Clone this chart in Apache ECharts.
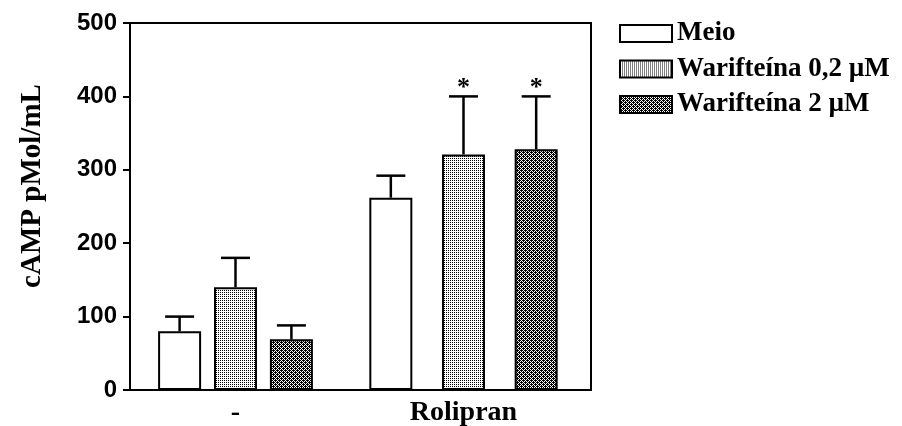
<!DOCTYPE html>
<html>
<head>
<meta charset="utf-8">
<script src="https://cdn.jsdelivr.net/npm/echarts@6/dist/echarts.min.js"></script>
<style>html,body{margin:0;padding:0;background:#fff}#c{width:902px;height:426px}</style>
</head>
<body>
<div id="c"></div>
<script>
// ---- data ----
var categories = ['-', 'Rolipran'];
var seriesNames = ['Meio', 'Warifteína 0,2 µM', 'Warifteína 2 µM'];
var meio = [80, 262];
var meioErr = [20, 30];
var war02 = [140, 321];
var war02Err = [40, 79];
var war2 = [69, 328];
var war2Err = [19, 72];
var war02Sig = ['', '*'];
var war2Sig = ['', '*'];
var yTicks = [0, 100, 200, 300, 400, 500];
var yTitle = 'cAMP pMol/mL';

// ---- styles ----
function makePattern(rows) {
  var c = document.createElement('canvas');
  c.width = rows[0].length; c.height = rows.length;
  var ctx = c.getContext('2d');
  ctx.fillStyle = '#fff'; ctx.fillRect(0, 0, c.width, c.height);
  ctx.fillStyle = '#000';
  for (var y = 0; y < rows.length; y++)
    for (var x = 0; x < rows[y].length; x++)
      if (rows[y][x] === '1') ctx.fillRect(x, y, 1, 1);
  return { image: c, repeat: 'repeat' };
}
var fills = [
  '#ffffff',
  makePattern(['10', '00']),
  makePattern(['1011', '0101', '1110', '0101'])
];
var values = [meio, war02, war2];
var errs = [meioErr, war02Err, war2Err];
var sigs = [['', ''], war02Sig, war2Sig];

var BAR_W = 43;
var GAPS = [0.30, 0.69];
var CAP = 29;
var serif = '"Liberation Serif", "Times New Roman", serif';
var sans = '"Liberation Sans", Arial, sans-serif';

var series = [];
for (var g = 0; g < 2; g++) {
  for (var k = 0; k < 3; k++) {
    var d = [null, null];
    d[g] = values[k][g];
    series.push({
      type: 'bar', name: seriesNames[k], xAxisIndex: g, yAxisIndex: 1,
      data: d, barWidth: BAR_W, barGap: (GAPS[g] * 100) + '%',
      itemStyle: { color: fills[k], borderColor: '#000', borderWidth: 2 },
      emphasis: { disabled: true }, animation: false
    });
  }
}
for (var k2 = 0; k2 < 3; k2++) {
  (function (k) {
    var data = categories.map(function (c, i) { return [i, values[k][i], errs[k][i], sigs[k][i]]; });
    series.push({
      type: 'custom', name: seriesNames[k], xAxisIndex: 0, yAxisIndex: 1,
      data: data, animation: false, z: 5,
      renderItem: function (params, api) {
        var ci = api.value(0), v = api.value(1), e = api.value(2);
        var base = api.coord([ci, v]);
        var top = api.coord([ci, v + e]);
        var dx = (k - 1) * BAR_W * (1 + GAPS[ci]);
        var x = base[0] + dx;
        var children = [
          { type: 'line', shape: { x1: x, y1: base[1], x2: x, y2: top[1] }, style: { stroke: '#000', lineWidth: 2.5 } },
          { type: 'line', shape: { x1: x - CAP / 2, y1: top[1], x2: x + CAP / 2, y2: top[1] }, style: { stroke: '#000', lineWidth: 2.5 } }
        ];
        var s = data[params.dataIndex][3];
        if (s) {
          children.push({ type: 'text', x: x, y: top[1] - 8, style: { text: s, font: 'bold 26px ' + serif, fill: '#000', textAlign: 'center', textVerticalAlign: 'middle' } });
        }
        return { type: 'group', children: children };
      }
    });
  })(k2);
}

var chart = echarts.init(document.getElementById('c'), null, { renderer: 'canvas' });
chart.setOption({
  animation: false,
  backgroundColor: '#fff',
  grid: [
    { left: 130, top: 23, width: 461, height: 367, show: true, borderColor: '#000', borderWidth: 2, backgroundColor: 'transparent', z: 10, containLabel: false, outerBoundsMode: 'none' },
    { left: 121.5, top: 23, width: 456, height: 367, containLabel: false, outerBoundsMode: 'none' }
  ],
  legend: {
    data: seriesNames, orient: 'vertical', left: 619, top: 20, padding: 0,
    itemWidth: 52, itemHeight: 17, itemGap: 8.5, icon: 'rect',
    textStyle: { fontFamily: serif, fontWeight: 'bold', fontSize: 27, color: '#000', lineHeight: 17 },
    selectedMode: false
  },
  xAxis: [
    { type: 'category', gridIndex: 1, data: categories, axisLine: { show: false }, axisTick: { show: false },
      axisLabel: { fontFamily: serif, fontWeight: 'bold', fontSize: 28, color: '#000', margin: 9 } },
    { type: 'category', gridIndex: 1, data: categories, show: false },
    { type: 'value', gridIndex: 0, show: false }
  ],
  yAxis: [
    { type: 'value', gridIndex: 0, min: 0, max: 500, interval: 100,
      axisLine: { show: true, lineStyle: { color: '#000', width: 2 } },
      axisTick: { show: true, length: 7, lineStyle: { color: '#000', width: 2 } },
      splitLine: { show: false },
      axisLabel: { fontFamily: sans, fontWeight: 'bold', fontSize: 24, color: '#000', margin: 13,
        formatter: function (v) { return yTicks.indexOf(v) >= 0 ? String(v) : ''; } } },
    { type: 'value', gridIndex: 1, min: 0, max: 500, show: false }
  ],
  graphic: [
    { type: 'text', x: 33, y: 186, rotation: Math.PI / 2,
      style: { text: yTitle, font: 'bold 29px ' + serif, fill: '#000', textAlign: 'center', textVerticalAlign: 'middle' } }
  ],
  series: series
});
</script>
</body>
</html>
